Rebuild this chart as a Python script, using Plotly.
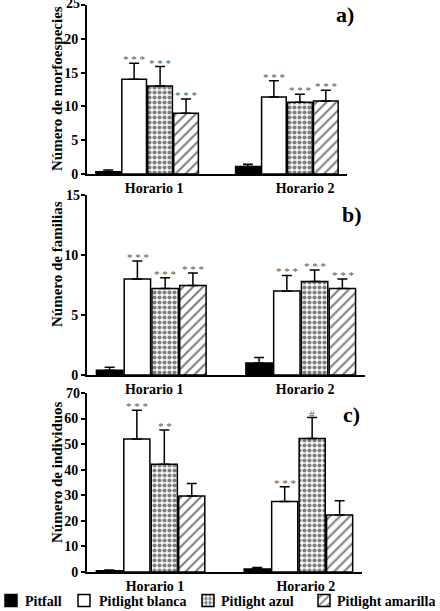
import plotly.graph_objects as go

horarios = ['Horario 1', 'Horario 2']
trampas = ['Pitfall', 'Pitlight blanca', 'Pitlight azul', 'Pitlight amarilla']

# a) morfoespecies: media y error (solo hacia arriba) por trampa
morfo_media = [[0.35, 1.1], [14.0, 11.4], [13.0, 10.6], [9.0, 10.8]]
morfo_error = [[0.25, 0.35], [2.4, 2.4], [2.9, 1.2], [2.1, 1.6]]
morfo_sig = [['', ''], ['* * *', '* * *'], ['* * *', '* * *'], ['* * *', '* * *']]

# b) familias
fam_media = [[0.4, 1.0], [8.0, 7.0], [7.2, 7.8], [7.45, 7.2]]
fam_error = [[0.25, 0.45], [1.5, 1.3], [0.9, 0.95], [1.05, 0.8]]
fam_sig = [['', ''], ['* * *', '* * *'], ['* * *', '* * *'], ['* * *', '* * *']]

# c) individuos
ind_media = [[0.5, 1.2], [52.0, 27.6], [42.1, 52.2], [29.7, 22.3]]
ind_error = [[0.3, 0.6], [11.3, 5.7], [13.4, 8.2], [4.9, 5.6]]
ind_sig = [['', ''], ['* * *', '* * *'], ['* *', '#'], ['', '']]

W, H = 440, 611
serif = 'Liberation Serif'

estilos = [
    dict(color='black'),
    dict(color='white'),
    dict(color='white', pattern=dict(shape='.', fgcolor='black', bgcolor='white', size=5, solidity=0.55)),
    dict(color='white', pattern=dict(shape='/', fgcolor='black', bgcolor='white', size=7, solidity=0.3)),
]

paneles = [
    dict(media=morfo_media, error=morfo_error, sig=morfo_sig, titulo='Número de morfoespecies',
         etiqueta='a)', xpx=(87, 347), ypx=(5, 174), ymax=25, dtick=5,
         tickx=[0.05, 1.13], tit_y=89, lab=(345, 15)),
    dict(media=fam_media, error=fam_error, sig=fam_sig, titulo='Número de familias',
         etiqueta='b)', xpx=(87, 365), ypx=(195, 375), ymax=15, dtick=5,
         tickx=[0.02, 1.03], tit_y=264, lab=(352, 215)),
    dict(media=ind_media, error=ind_error, sig=ind_sig, titulo='Número de individuos',
         etiqueta='c)', xpx=(87, 362), ypx=(393, 572), ymax=70, dtick=10,
         tickx=[0.03, 1.05], tit_y=472, lab=(351, 414)),
]

# leyenda: centro del icono y comienzo del texto (px)
icono_x = [11, 84, 208, 324]
texto_x = [23, 97, 219, 335]
leyenda_y = 601

fig = go.Figure()
annotations = []
pos = list(range(len(horarios)))

for p, panel in enumerate(paneles):
    sfx = '' if p == 0 else str(p + 1)
    for t, trampa in enumerate(trampas):
        marker = dict(line=dict(color='black', width=1.5), **estilos[t])
        fig.add_trace(go.Bar(
            x=pos, y=panel['media'][t], name=' ',
            marker=marker,
            error_y=dict(type='data', array=panel['error'][t], arrayminus=[0] * len(pos),
                         symmetric=False, color='black', thickness=1.5, width=5),
            offsetgroup=str(t),
            xaxis='x' + sfx, yaxis='y' + sfx,
            showlegend=(p == 0),
            legend='legend' if t == 0 else 'legend' + str(t + 1),
        ))
        # asteriscos de significancia
        for i in pos:
            txt = panel['sig'][t][i]
            if txt:
                annotations.append(dict(
                    xref='x' + sfx, yref='y' + sfx,
                    x=i - 0.37 + (t + 0.5) * 0.743 / 4,
                    y=panel['media'][t][i] + panel['error'][t][i],
                    text=txt, showarrow=False, xanchor='center', yanchor='bottom', yshift=-4,
                    font=dict(family=serif, size=11, color='#555555')))

    x0, x1 = panel['xpx']
    y0, y1 = panel['ypx']
    # el rótulo del extremo superior va aparte (plotly lo oculta en el borde del dominio)
    ticks_y = list(range(0, panel['ymax'], panel['dtick']))
    fig.update_layout(**{
        'xaxis' + sfx: dict(domain=[x0 / W, x1 / W], anchor='y' + sfx, range=[-0.43, 1.43],
                            showline=True, linewidth=2, linecolor='black', ticks='',
                            tickvals=panel['tickx'], ticktext=horarios,
                            showgrid=False, zeroline=False, automargin=False,
                            tickfont=dict(family=serif, size=14, color='black', weight='bold')),
        'yaxis' + sfx: dict(domain=[1 - y1 / H, 1 - y0 / H], anchor='x' + sfx,
                            range=[0, panel['ymax']], tickvals=ticks_y,
                            ticklabeloverflow='allow', automargin=False,
                            showline=True, linewidth=2, linecolor='black', ticks='outside',
                            ticklen=4, tickwidth=2, tickcolor='black', showgrid=False, zeroline=False,
                            minor=dict(tickvals=[panel['ymax']], ticks='outside', ticklen=4,
                                       tickwidth=2, tickcolor='black', showgrid=False),
                            tickfont=dict(family=serif, size=14, color='black', weight='bold')),
    })
    annotations.append(dict(xref='paper', yref='y' + sfx, x=(x0 - 5) / W, y=panel['ymax'],
                            xanchor='right', yanchor='middle', yshift=1 if p == 0 else 0,
                            text='<b>%d</b>' % panel['ymax'],
                            showarrow=False, font=dict(family=serif, size=14, color='black')))
    annotations.append(dict(xref='paper', yref='paper', x=57 / W, y=1 - panel['tit_y'] / H,
                            xanchor='center', yanchor='middle',
                            text='<b>%s</b>' % panel['titulo'], textangle=-90, showarrow=False,
                            font=dict(family=serif, size=15, color='black')))
    annotations.append(dict(xref='paper', yref='paper', x=panel['lab'][0] / W, y=1 - panel['lab'][1] / H,
                            xanchor='center', yanchor='middle',
                            text='<b>%s</b>' % panel['etiqueta'], showarrow=False,
                            font=dict(family=serif, size=22, color='black')))

leyendas = {}
for t, trampa in enumerate(trampas):
    key = 'legend' if t == 0 else 'legend' + str(t + 1)
    leyendas[key] = dict(orientation='h', x=(icono_x[t] - 20) / W, xanchor='left',
                         y=1 - leyenda_y / H, yanchor='middle', itemwidth=30,
                         bgcolor='rgba(0,0,0,0)',
                         font=dict(family=serif, size=14, color='black'))
    annotations.append(dict(xref='paper', yref='paper', x=texto_x[t] / W, y=1 - leyenda_y / H,
                            xanchor='left', yanchor='middle', text='<b>%s</b>' % trampa,
                            showarrow=False, font=dict(family=serif, size=14, color='black')))

fig.update_layout(
    width=W, height=H,
    margin=dict(l=0, r=0, t=0, b=0, autoexpand=False),
    paper_bgcolor='white', plot_bgcolor='white',
    barmode='group', bargap=0.257, bargroupgap=0.05,
    annotations=annotations,
    **leyendas,
)

# sin el margen por defecto del <body>, para que la figura empiece en (0, 0)
fig.write_html('out.html', config={'displayModeBar': False},
               post_script="document.body.style.margin='0';")
